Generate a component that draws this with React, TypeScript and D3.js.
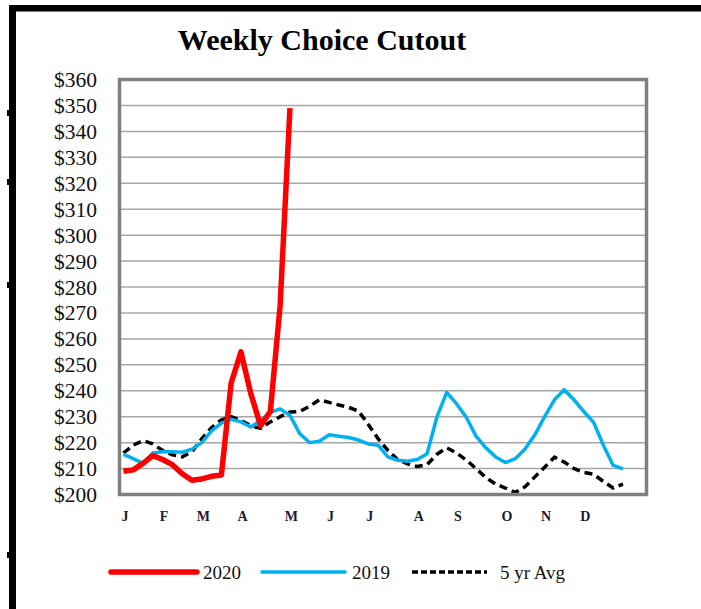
import React from 'react';
import * as d3 from 'd3';

// weekly values, $/cwt
const weeks2020 = [209, 209.5, 212, 215, 213.5, 211.5, 208, 205.5, 206, 207, 207.5, 243, 255, 239, 226.5, 232, 273, 349];
const weeks2019 = [
    215.5, 213.8, 212, 216, 216.5, 216.5, 216.3, 217.5, 220, 224.5, 227.5, 229, 228, 226, 228.5, 231.7, 233,
    230.5, 223.5, 220, 220.5, 223, 222.5, 222, 221, 219.5, 219, 214.5, 213.2, 212.8, 213.5, 215.7, 229.8,
    239.4, 235, 229.8, 222.5, 218, 214.5, 212.3, 213.8, 217.5, 223, 230, 236.5, 240.4, 236.5, 232, 227.8,
    219, 211.2, 209.9,
];
const fiveYrAvg = [
    216, 219, 220.8, 219.5, 217, 215.3, 214.5, 216.5, 221.5, 225.8, 228.8, 230, 228.5, 226.5, 225.5, 228, 230,
    231.8, 232, 234, 236.5, 235.5, 234.5, 233.6, 232.2, 227, 221.5, 217, 213.5, 211.8, 210.8, 211.5, 215.5,
    218, 216, 213.3, 210, 206.5, 204, 202.5, 200.8, 203, 206.8, 210.5, 214.4, 212.5, 210, 208.5, 207.8, 205,
    202.5, 204,
];
const monthLabels = ['J', 'F', 'M', 'A', 'M', 'J', 'J', 'A', 'S', 'O', 'N', 'D'];
const monthWeeks = [1, 5, 9, 13, 18, 22, 26, 31, 35, 40, 44, 48];
const yTicks = d3.range(200, 361, 10);

const serif = '"Liberation Serif", "Times New Roman", serif';

const App: React.FC = () => {
    const width = 701;
    const height = 609;
    const plot = { left: 119.5, top: 79.5, right: 646.5, bottom: 494.5 };

    const x = d3.scaleLinear().domain([0.6, 54.4]).range([plot.left, plot.right]);
    const y = d3.scaleLinear().domain([200, 360]).range([plot.bottom, plot.top]);

    const line = d3.line<number>()
        .x((_, i) => x(i + 1))
        .y(d => y(d));

    const series = [
        { name: '2020', values: weeks2020, color: '#ff0000', w: 5.5, dash: undefined as string | undefined },
        { name: '2019', values: weeks2019, color: '#00b0f0', w: 3.5, dash: undefined },
        { name: '5 yr Avg', values: fiveYrAvg, color: '#000000', w: 3.5, dash: '8,5' },
    ];

    const legend = [
        { ...series[0], x1: 111, x2: 197, tx: 203 },
        { ...series[1], x1: 262, x2: 345, tx: 352 },
        { ...series[2], x1: 412, x2: 487, tx: 500, dash: '6,3' },
    ];

    return (
        <svg width={width} height={height} style={{ position: 'absolute', left: 0, top: 0, background: '#fff' }}>
            {/* outer frame */}
            <rect x={9} y={5} width={width - 9} height={6.5} fill="#000" />
            <rect x={9} y={5} width={7} height={height - 5} fill="#000" />
            {[113, 182, 285, 555].map(t => (
                <rect key={t} x={7} y={t - 3} width={3} height={6} fill="#000" />
            ))}

            <text x={322} y={50} textAnchor="middle" fontFamily={serif} fontWeight="bold" fontSize={30} fill="#000">
                Weekly Choice Cutout
            </text>

            {/* gridlines */}
            {yTicks.slice(1, -1).map(t => (
                <line key={t} x1={plot.left} x2={plot.right} y1={y(t)} y2={y(t)} stroke="#a6a6a6" strokeWidth={1.5} />
            ))}

            {yTicks.map(t => (
                <text key={t} x={97} y={y(t)} dy="0.35em" textAnchor="end" fontFamily={serif} fontSize={21.5} fill="#111">
                    ${t}
                </text>
            ))}

            {monthLabels.map((m, i) => (
                <text key={i} x={x(monthWeeks[i]) + 1.5} y={521} textAnchor="middle" fontFamily={serif}
                    fontWeight="bold" fontSize={14} fill="#1a1a33">
                    {m}
                </text>
            ))}

            {series.slice().reverse().map(s => (
                <path key={s.name} d={line(s.values) || ''} fill="none" stroke={s.color} strokeWidth={s.w}
                    strokeDasharray={s.dash} strokeLinejoin="round" />
            ))}

            <rect x={plot.left} y={plot.top} width={plot.right - plot.left} height={plot.bottom - plot.top}
                fill="none" stroke="#808080" strokeWidth={3.5} />

            {legend.map(l => (
                <g key={l.name}>
                    <line x1={l.x1} x2={l.x2} y1={572} y2={572} stroke={l.color} strokeWidth={l.w}
                        strokeDasharray={l.dash} strokeLinecap={l.dash ? 'butt' : 'round'} />
                    <text x={l.tx} y={572} dy="0.35em" fontFamily={serif} fontSize={19} fill="#111">{l.name}</text>
                </g>
            ))}
        </svg>
    );
};

export default App;
